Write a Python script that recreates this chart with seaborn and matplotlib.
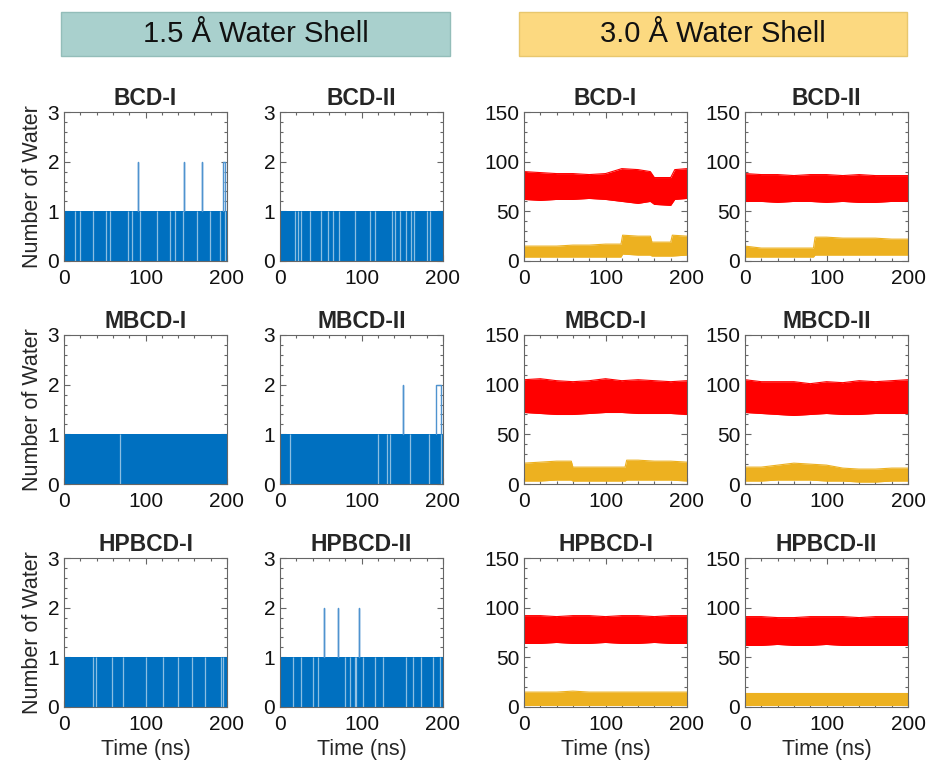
import matplotlib
matplotlib.use("Agg")
import matplotlib.pyplot as plt
from matplotlib.patches import Rectangle
from matplotlib.ticker import MultipleLocator
import seaborn as sns

systems = ["BCD-I", "BCD-II", "MBCD-I", "MBCD-II", "HPBCD-I", "HPBCD-II"]

# ---- 1.5 A shell: occupancy sits at 1, drops to 0 at these times (ns) ----
bcd1_gaps = [13.5, 19.6, 36, 52, 56, 79, 83, 93, 114, 130, 136, 146, 163, 179, 191, 198]
bcd2_gaps = [18, 22, 26, 36.4, 50.7, 58.9, 65, 73, 91.7, 110, 116, 137, 141, 147, 155, 161, 165, 180, 184]
mbcd1_gaps = [68.7]
mbcd2_gaps = [12, 120, 131, 135, 160, 183, 197]
hpbcd1_gaps = [36, 39, 58.5, 72.8, 101, 122, 140, 157, 173, 193, 195]
hpbcd2_gaps = [15.9, 26.2, 40.5, 46.7, 79.4, 85.5, 91.7, 93.7, 101.9, 116, 126, 155, 163, 173.5, 188, 196]

# excursions to 2 waters, (start, end) in ns
bcd1_spikes = [(91, 91), (147.7, 147.7), (169.7, 169.7), (195, 198)]
bcd2_spikes = []
mbcd1_spikes = []
mbcd2_spikes = [(151, 151), (191, 198)]
hpbcd1_spikes = []
hpbcd2_spikes = [(53.6, 53.6), (71.2, 71.2), (97.4, 97.4)]

# ---- 3.0 A shell: band envelopes (ns, lower, upper) ----
t_even = [0, 20, 40, 60, 80, 100, 120, 140, 160, 180, 200]

bcd1_red_t = [0, 20, 40, 60, 80, 100, 120, 140, 155, 160, 180, 185, 200]
bcd1_red_lo = [62, 61, 62, 62, 63, 62, 60, 58, 60, 57, 56, 62, 63]
bcd1_red_hi = [90, 89, 88, 88, 87, 88, 93, 92, 90, 84, 84, 92, 93]
bcd1_or_t = [0, 20, 40, 60, 80, 100, 119, 121, 140, 155, 157, 180, 182, 200]
bcd1_or_lo = [4, 4, 4, 4, 4, 4, 4, 7, 6, 6, 5, 5, 5, 6]
bcd1_or_hi = [15, 15, 15, 16, 16, 17, 17, 26, 25, 25, 19, 19, 26, 25]

bcd2_red_t = t_even
bcd2_red_lo = [60, 60, 59, 60, 60, 59, 60, 59, 59, 60, 60]
bcd2_red_hi = [88, 87, 87, 86, 87, 87, 86, 87, 86, 86, 86]
bcd2_or_t = [0, 20, 40, 60, 84, 86, 100, 120, 140, 160, 180, 200]
bcd2_or_lo = [4, 4, 4, 4, 4, 6, 6, 6, 6, 6, 6, 6]
bcd2_or_hi = [15, 13, 13, 13, 13, 24, 24, 23, 23, 23, 22, 22]

mbcd1_red_t = t_even
mbcd1_red_lo = [72, 71, 70, 70, 71, 72, 72, 71, 71, 71, 70]
mbcd1_red_hi = [105, 106, 104, 103, 104, 106, 104, 105, 104, 103, 104]
mbcd1_or_t = [0, 20, 40, 58, 60, 80, 100, 124, 126, 140, 160, 180, 200]
mbcd1_or_lo = [3, 3, 4, 4, 3, 3, 3, 3, 4, 4, 4, 4, 3]
mbcd1_or_hi = [21, 22, 23, 23, 17, 17, 17, 17, 24, 24, 23, 23, 22]

mbcd2_red_t = t_even
mbcd2_red_lo = [72, 71, 70, 69, 70, 71, 70, 70, 71, 71, 71]
mbcd2_red_hi = [105, 103, 103, 103, 101, 103, 102, 104, 103, 104, 105]
mbcd2_or_t = t_even
mbcd2_or_lo = [3, 3, 4, 4, 4, 3, 3, 2, 2, 3, 3]
mbcd2_or_hi = [17, 17, 19, 21, 20, 19, 16, 15, 15, 16, 16]

hpbcd1_red_t = t_even
hpbcd1_red_lo = [64, 64, 65, 64, 64, 65, 64, 64, 65, 64, 64]
hpbcd1_red_hi = [92, 92, 91, 92, 92, 91, 92, 92, 91, 92, 92]
hpbcd1_or_t = t_even
hpbcd1_or_lo = [2, 2, 2, 2, 2, 2, 2, 2, 2, 2, 2]
hpbcd1_or_hi = [15, 15, 15, 16, 15, 15, 15, 15, 15, 15, 15]

hpbcd2_red_t = t_even
hpbcd2_red_lo = [62, 62, 63, 62, 62, 63, 62, 62, 62, 62, 62]
hpbcd2_red_hi = [91, 91, 90, 90, 91, 91, 91, 90, 91, 91, 91]
hpbcd2_or_t = t_even
hpbcd2_or_lo = [2, 2, 2, 2, 2, 2, 2, 2, 2, 2, 2]
hpbcd2_or_hi = [14, 14, 14, 14, 14, 14, 14, 14, 14, 14, 14]

gaps = dict(zip(systems, [bcd1_gaps, bcd2_gaps, mbcd1_gaps, mbcd2_gaps, hpbcd1_gaps, hpbcd2_gaps]))
spikes = dict(zip(systems, [bcd1_spikes, bcd2_spikes, mbcd1_spikes, mbcd2_spikes, hpbcd1_spikes, hpbcd2_spikes]))
red = dict(zip(systems, [
    (bcd1_red_t, bcd1_red_lo, bcd1_red_hi), (bcd2_red_t, bcd2_red_lo, bcd2_red_hi),
    (mbcd1_red_t, mbcd1_red_lo, mbcd1_red_hi), (mbcd2_red_t, mbcd2_red_lo, mbcd2_red_hi),
    (hpbcd1_red_t, hpbcd1_red_lo, hpbcd1_red_hi), (hpbcd2_red_t, hpbcd2_red_lo, hpbcd2_red_hi)]))
orange = dict(zip(systems, [
    (bcd1_or_t, bcd1_or_lo, bcd1_or_hi), (bcd2_or_t, bcd2_or_lo, bcd2_or_hi),
    (mbcd1_or_t, mbcd1_or_lo, mbcd1_or_hi), (mbcd2_or_t, mbcd2_or_lo, mbcd2_or_hi),
    (hpbcd1_or_t, hpbcd1_or_lo, hpbcd1_or_hi), (hpbcd2_or_t, hpbcd2_or_lo, hpbcd2_or_hi)]))

BLUE = "#0070c0"
SPIKE = "#4f93cf"
RED = "#ff0000"
ORANGE = "#edb120"
AXCOL = "#666666"

sns.set_theme(style="ticks")
plt.rcParams["font.family"] = ["Liberation Sans", "DejaVu Sans"]

fig = plt.figure(figsize=(9.27, 7.69), dpi=100)

col_x = [64 / 927, 280 / 927, 524 / 927, 745 / 927]
row_y = [1 - 261 / 769, 1 - 484 / 769, 1 - 707 / 769]
w, h = 163 / 927, 149 / 769


def style_axis(ax, ymax, ymajor, yminor):
    ax.set_xlim(0, 200)
    ax.set_ylim(0, ymax)
    ax.xaxis.set_major_locator(MultipleLocator(100))
    ax.xaxis.set_minor_locator(MultipleLocator(20))
    ax.yaxis.set_major_locator(MultipleLocator(ymajor))
    ax.yaxis.set_minor_locator(MultipleLocator(yminor))
    ax.tick_params(which="both", direction="in", top=True, right=True,
                   colors=AXCOL, labelcolor="#111111", labelsize=15, width=0.8)
    ax.tick_params(which="major", length=4)
    ax.tick_params(which="minor", length=2.5)
    ax.tick_params(axis="x", pad=6)
    for s in ax.spines.values():
        s.set_color(AXCOL)
        s.set_linewidth(0.8)
        s.set_visible(True)


for i, name in enumerate(systems):
    r, c = divmod(i, 2)

    # left block: 1.5 A shell
    ax = fig.add_axes([col_x[c], row_y[r], w, h])
    ax.fill_between([0, 200], 0, 1, color=BLUE, lw=0)
    if gaps[name]:
        ax.vlines(gaps[name], 0, 1, color="white", lw=0.9, alpha=0.55)
    for s, e in spikes[name]:
        sns.lineplot(x=[s, s, e, e], y=[1, 2, 2, 1], sort=False, estimator=None,
                     color=SPIKE, lw=1, ax=ax)
    style_axis(ax, 3, 1, 0.2)
    ax.set_title(name, fontsize=16.5, fontweight="bold", pad=5)
    if c == 0:
        ax.set_ylabel("Number of Water", fontsize=15.5, labelpad=3)
    if r == 2:
        ax.set_xlabel("Time (ns)", fontsize=15.5, labelpad=3)

    # right block: 3.0 A shell
    ax = fig.add_axes([col_x[c + 2], row_y[r], w, h])
    for (t, lo, hi), col in [(red[name], RED), (orange[name], ORANGE)]:
        ax.fill_between(t, lo, hi, color=col, lw=0)
        sns.lineplot(x=t, y=hi, sort=False, estimator=None, color=col, lw=0.8, ax=ax)
        sns.lineplot(x=t, y=lo, sort=False, estimator=None, color=col, lw=0.8, ax=ax)
    style_axis(ax, 150, 50, 10)
    ax.set_title(name, fontsize=16.5, fontweight="bold", pad=5)
    if r == 2:
        ax.set_xlabel("Time (ns)", fontsize=15.5, labelpad=3)

# header boxes
for x0, x1, fc, ec, label in [(61, 450, "#a9d0cd", "#93bdb9", "1.5 Å Water Shell"),
                              (519, 907, "#fcd980", "#e8c76e", "3.0 Å Water Shell")]:
    fig.patches.append(Rectangle((x0 / 927, 1 - 56 / 769), (x1 - x0) / 927, 44 / 769,
                                 transform=fig.transFigure, facecolor=fc,
                                 edgecolor=ec, lw=1))
    fig.text((x0 + x1) / 2 / 927, 1 - 34 / 769, label, ha="center", va="center",
             fontsize=21, color="#111111")

fig.savefig("out.png", dpi=100)
